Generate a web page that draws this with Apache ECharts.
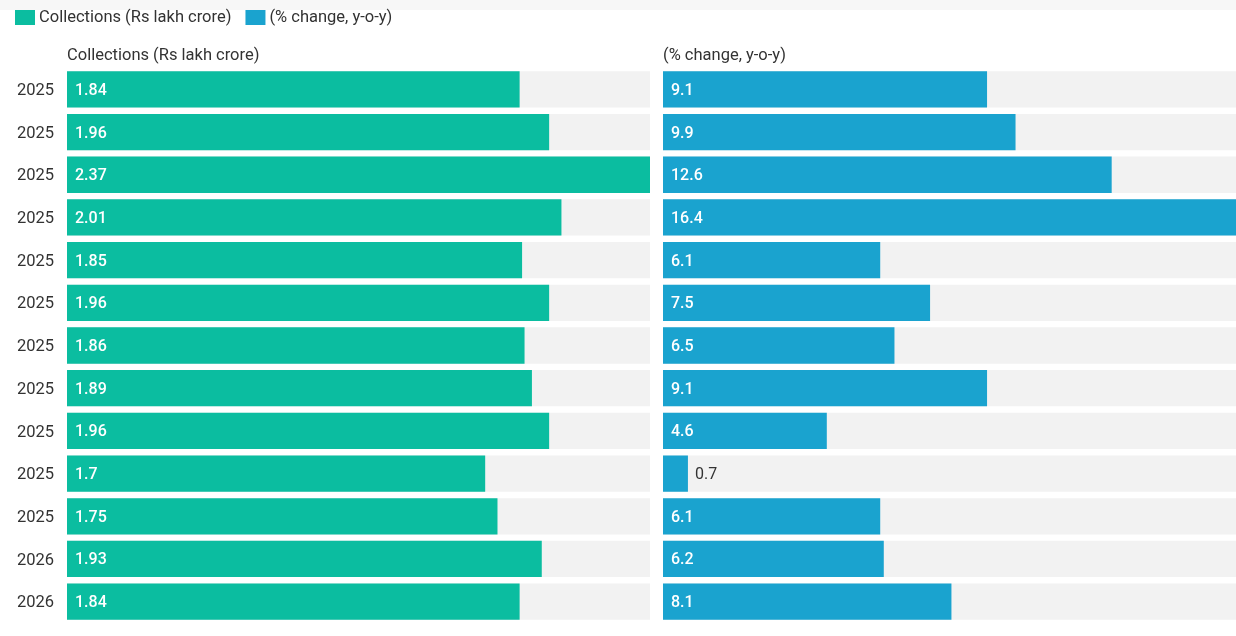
<!DOCTYPE html>
<html>
<head>
<meta charset="utf-8">
<script src="https://cdn.jsdelivr.net/npm/echarts@6/dist/echarts.min.js"></script>
<style>
html,body{margin:0;padding:0;background:#fff;}
#c{width:1236px;height:636px;}
</style>
</head>
<body>
<div id="c"></div>
<script>
const categories = ['2025','2025','2025','2025','2025','2025','2025','2025','2025','2025','2025','2026','2026'];
const collections = [1.84,1.96,2.37,2.01,1.85,1.96,1.86,1.89,1.96,1.7,1.75,1.93,1.84];
const pctChange = [9.1,9.9,12.6,16.4,6.1,7.5,6.5,9.1,4.6,0.7,6.1,6.2,8.1];
const leftMax = 2.37;
const rightMax = 16.4;

const FONT = 'Roboto';
function labelled(vals, max){
  return vals.map(v => {
    const small = v / max < 0.08;
    return {
      value: v,
      label: small ? {position:'right', color:'#333', fontWeight:'normal', distance:7} : {}
    };
  });
}

const chart = echarts.init(document.getElementById('c'));
chart.setOption({
  animation:false,
  textStyle:{fontFamily:FONT},
  graphic:[{type:'rect', left:0, top:0, shape:{width:1236, height:10}, style:{fill:'#f7f7f7'}, silent:true}],
  legend:{
    left:10, top:4, itemWidth:20, itemHeight:15, itemGap:14,
    icon:'rect',
    textStyle:{fontSize:16.5, color:'#333', fontFamily:FONT, padding:[0,0,0,-1]},
    data:['Collections (Rs lakh crore)','(% change, y-o-y)']
  },
  title:[
    {text:'Collections (Rs lakh crore)', left:62, top:42, textStyle:{fontSize:16.5, fontWeight:'normal', color:'#333', fontFamily:FONT}},
    {text:'(% change, y-o-y)', left:658, top:42, textStyle:{fontSize:16.5, fontWeight:'normal', color:'#333', fontFamily:FONT}}
  ],
  grid:[
    {left:67, width:583, top:68, height:555, outerBoundsMode:'none', containLabel:false},
    {left:663, width:584, top:68, height:555, outerBoundsMode:'none', containLabel:false}
  ],
  xAxis:[
    {gridIndex:0, type:'value', min:0, max:leftMax, show:false},
    {gridIndex:1, type:'value', min:0, max:rightMax, show:false}
  ],
  yAxis:[
    {gridIndex:0, type:'category', data:categories, inverse:true,
     axisLine:{show:false}, axisTick:{show:false},
     axisLabel:{margin:13, formatter:'{y|{value}}',
       rich:{y:{fontSize:16.5, color:'#333', fontFamily:FONT, padding:[3,0,0,0]}}}},
    {gridIndex:1, type:'category', data:categories, inverse:true,
     axisLine:{show:false}, axisTick:{show:false}, axisLabel:{show:false}}
  ],
  series:[
    {
      name:'Collections (Rs lakh crore)', type:'bar', xAxisIndex:0, yAxisIndex:0,
      data:labelled(collections, leftMax),
      barCategoryGap:'15%',
      itemStyle:{color:'#0bbda0'},
      showBackground:true, backgroundStyle:{color:'#f2f2f2'},
      label:{show:true, position:'insideLeft', distance:8, offset:[0,1.5], color:'#fff', fontSize:16, fontWeight:500, fontFamily:FONT}
    },
    {
      name:'(% change, y-o-y)', type:'bar', xAxisIndex:1, yAxisIndex:1,
      data:labelled(pctChange, rightMax),
      barCategoryGap:'15%',
      itemStyle:{color:'#1aa3cf'},
      showBackground:true, backgroundStyle:{color:'#f2f2f2'},
      label:{show:true, position:'insideLeft', distance:8, offset:[0,1.5], color:'#fff', fontSize:16, fontWeight:500, fontFamily:FONT}
    }
  ]
});
</script>
</body>
</html>
